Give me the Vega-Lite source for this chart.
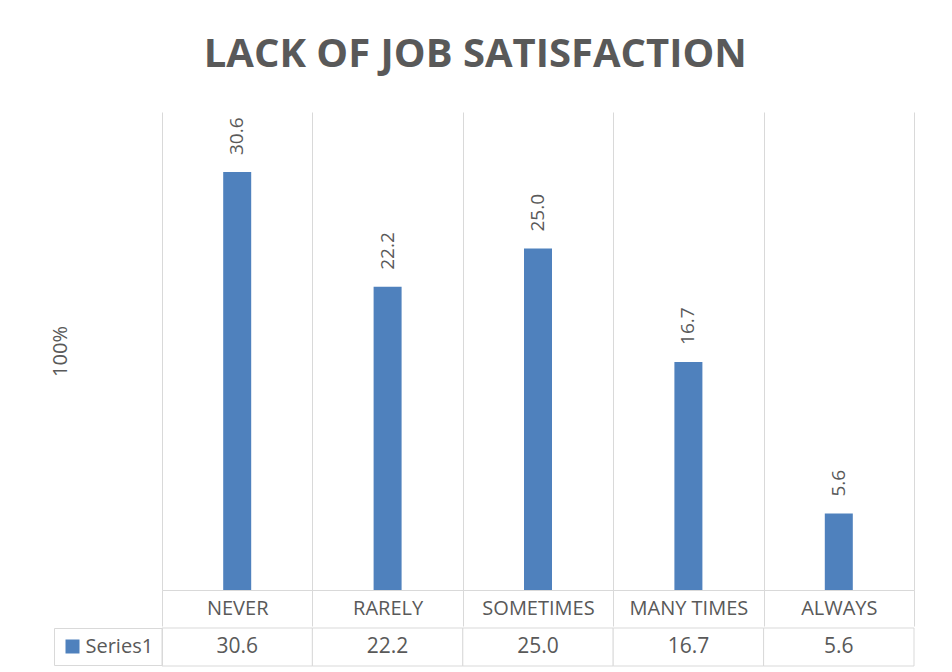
{
  "$schema": "https://vega.github.io/schema/vega-lite/v6.json",
  "padding": {"left": 50, "top": 35, "right": 5, "bottom": 3},
  "background": "white",
  "config": {"view": {"stroke": null}, "font": "Open Sans", "concat": {"spacing": 0}},
  "title": {"text": "LACK OF JOB SATISFACTION", "fontSize": 40, "fontWeight": "bold", "color": "#595959", "font": "Open Sans", "anchor": "middle", "offset": 37, "dx": -7},
  "data": {"values": [
    {"category": "NEVER", "value": 30.6, "series": "Series1"},
    {"category": "RARELY", "value": 22.2, "series": "Series1"},
    {"category": "SOMETIMES", "value": 25.0, "series": "Series1"},
    {"category": "MANY TIMES", "value": 16.7, "series": "Series1"},
    {"category": "ALWAYS", "value": 5.6, "series": "Series1"}
  ]},
  "resolve": {"legend": {"color": "independent"}},
  "vconcat": [
    {
      "width": 752,
      "height": 478,
      "encoding": {
        "x": {"field": "category", "type": "nominal", "sort": null,
          "scale": {"paddingInner": 0, "paddingOuter": 0},
          "axis": {"title": null, "labelAngle": 0, "labelFontSize": 20, "labelColor": "#595959", "labelFont": "Open Sans",
            "labelBaseline": "middle", "labelPadding": -18, "tickBand": "extent", "tickSize": 36, "tickColor": "#d9d9d9",
            "domainColor": "#d9d9d9", "grid": true, "gridColor": "#d9d9d9", "gridOpacity": 1}},
        "y": {"field": "value", "type": "quantitative", "scale": {"domain": [0, 35]},
          "axis": {"title": "100%", "labels": false, "ticks": false, "domain": false, "grid": false,
            "titleFontSize": 20, "titleFontWeight": "normal", "titleColor": "#595959", "titleFont": "Open Sans", "titlePadding": 92}}
      },
      "layer": [
        {"mark": {"type": "bar", "size": 28, "color": "#4f81bd"}},
        {"mark": {"type": "text", "angle": 270, "align": "left", "baseline": "middle", "dx": 17, "fontSize": 19, "color": "#595959", "font": "Open Sans"},
          "encoding": {"text": {"field": "value", "type": "quantitative", "format": ".1f"}}}
      ]
    },
    {
      "width": 752,
      "height": 38,
      "encoding": {
        "x": {"field": "category", "type": "nominal", "sort": null,
          "scale": {"paddingInner": 0, "paddingOuter": 0}, "axis": null}
      },
      "layer": [
        {"mark": {"type": "rect", "fill": "white", "stroke": "#d9d9d9", "strokeWidth": 1}},
        {"mark": {"type": "square", "opacity": 0},
          "encoding": {"color": {"field": "series", "type": "nominal",
            "scale": {"range": ["#4f81bd"]},
            "legend": {"title": null, "orient": "left", "offset": 0, "padding": 8.5, "strokeColor": "#d9d9d9",
              "symbolType": "square", "symbolSize": 196, "symbolOpacity": 1, "symbolStrokeWidth": 0, "symbolFillColor": "#4f81bd",
              "labelFontSize": 20, "labelColor": "#595959", "labelFont": "Open Sans", "labelOffset": 3}}}},
        {"mark": {"type": "text", "fontSize": 21, "color": "#595959", "font": "Open Sans"},
          "encoding": {"text": {"field": "value", "type": "quantitative", "format": ".1f"}}}
      ]
    }
  ]
}
